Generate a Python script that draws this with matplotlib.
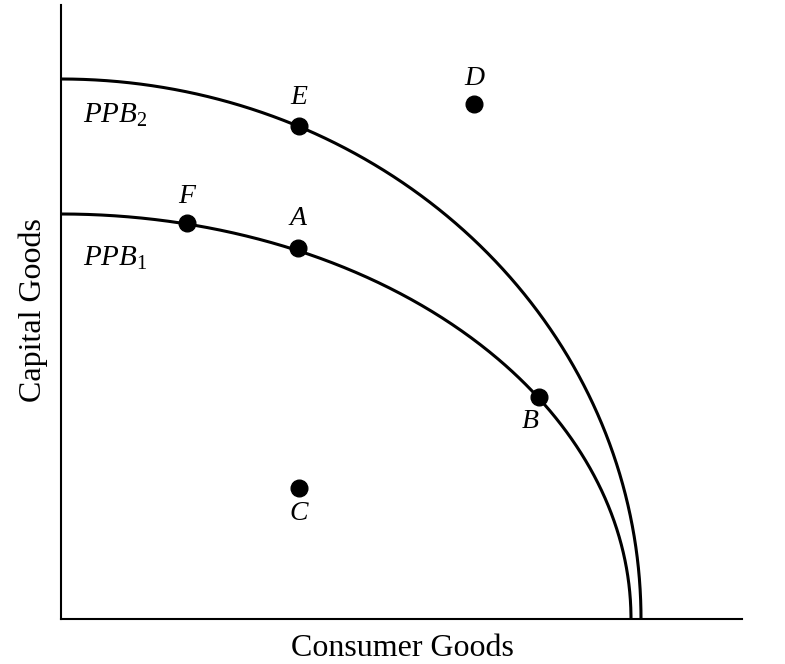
import numpy as np
import matplotlib
matplotlib.use("Agg")
import matplotlib.pyplot as plt

plt.rcParams['font.family'] = ['Liberation Serif', 'DejaVu Serif']
plt.rcParams['mathtext.fontset'] = 'custom'
plt.rcParams['mathtext.rm'] = 'Liberation Serif'
plt.rcParams['mathtext.it'] = 'Liberation Serif:italic'

# Frontier intercepts (consumer-goods intercept, capital-goods intercept)
curve_names = ["PPB1", "PPB2"]
x_intercepts = [570, 580]
y_intercepts = [405, 540]
curve_labels = [r"$\mathit{PPB}_{\mathrm{1}}$", r"$\mathit{PPB}_{\mathrm{2}}$"]
curve_label_pos = [(22, 361), (22, 504)]

# Points
point_names = ["E", "D", "F", "A", "B", "C"]
point_x = [238, 413, 126, 237, 478, 238]
point_y = [493, 515, 396, 371, 222, 131]
label_x = [238, 413, 126, 237, 469, 238]
label_y = [522, 541, 423, 401, 198, 106]

W, H = 785, 664
fig = plt.figure(figsize=(W/100, H/100), dpi=100)
ax = fig.add_axes([61/W, (H-619)/H, 681/W, 614/H])
ax.set_xlim(0, 681)
ax.set_ylim(0, 614)

for a, b in zip(x_intercepts, y_intercepts):
    t = np.linspace(0, np.pi/2, 400)
    ax.plot(a*np.sin(t), b*np.cos(t), color='black', lw=2.2, solid_capstyle='butt', clip_on=False)

for lab, (lx, ly) in zip(curve_labels, curve_label_pos):
    ax.text(lx, ly, lab, fontsize=21, ha='left', va='center')

ax.plot(point_x, point_y, 'o', color='black', markersize=12, zorder=5)
for n, lx, ly in zip(point_names, label_x, label_y):
    ax.text(lx, ly, n, fontsize=20, style='italic', ha='center', va='center')

for s in ['top', 'right']:
    ax.spines[s].set_visible(False)
for s in ['left', 'bottom']:
    ax.spines[s].set_linewidth(1.5)
ax.set_xticks([])
ax.set_yticks([])

fig.text(402/W, 1-648/H, "Consumer Goods", fontsize=23, ha='center', va='center')
fig.text(33/W, 1-310/H, "Capital Goods", fontsize=23, ha='center', va='center', rotation=90)

fig.savefig("out.png", dpi=100)
